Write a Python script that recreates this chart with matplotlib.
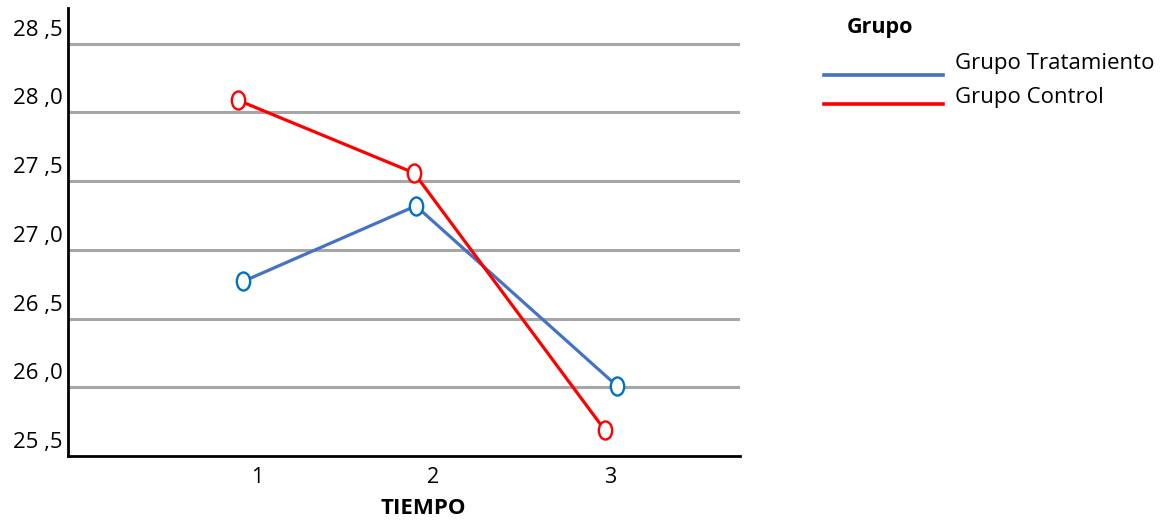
import matplotlib
matplotlib.use('Agg')
import matplotlib.pyplot as plt
import matplotlib.transforms as mtransforms
from matplotlib.path import Path
from matplotlib.lines import Line2D

plt.rcParams['font.family'] = ['Open Sans', 'DejaVu Sans']

# data
tiempo = [1, 2, 3]
tick_labels = ['1', '2', '3']
y_ticks = [25.5, 26.0, 26.5, 27.0, 27.5, 28.0, 28.5]
y_labels = ['25 ,5', '26 ,0', '26 ,5', '27 ,0', '27 ,5', '28 ,0', '28 ,5']

x_tratamiento = [0.92, 1.90, 3.04]
y_tratamiento = [26.77, 27.32, 26.01]
x_control = [0.89, 1.89, 2.97]
y_control = [28.09, 27.56, 25.69]

series = ['Grupo Tratamiento', 'Grupo Control']

# tall ellipse marker
ellipse = Path.unit_circle().transformed(mtransforms.Affine2D().scale(0.74, 1.0))

fig = plt.figure(figsize=(11.61, 5.20), dpi=100)
ax = fig.add_axes([0.0586, 0.123, 0.5788, 0.8616])

ax.plot(x_tratamiento, y_tratamiento, color='#4472C4', lw=2.3, zorder=3,
        marker=ellipse, ms=13, mfc='white', mec='#0070C0', mew=1.7)
ax.plot(x_control, y_control, color='#FF0000', lw=2.3, zorder=3,
        marker=ellipse, ms=13, mfc='white', mec='#FF0000', mew=1.7)

ax.set_xlim(-0.071, 3.737)
ax.set_ylim(25.5, 28.76)
ax.set_xticks(tiempo)
ax.set_xticklabels(tick_labels, fontsize=15.5)
ax.set_yticks(y_ticks)
ax.set_yticklabels(y_labels, fontsize=16)
ax.tick_params(length=0, pad=8)
ax.tick_params(axis='y', pad=4)

# y labels sit a bit above their gridlines
off = mtransforms.ScaledTranslation(0, 16 / 100, fig.dpi_scale_trans)
for lab in ax.get_yticklabels():
    lab.set_transform(lab.get_transform() + off)

for v in y_ticks[1:]:
    ax.axhline(v, color='#A6A6A6', lw=2.2, zorder=1)

for s in ['top', 'right']:
    ax.spines[s].set_visible(False)
for s in ['left', 'bottom']:
    ax.spines[s].set_linewidth(2)
    ax.spines[s].set_color('black')

fig.text(423 / 1161, 1 - 508 / 520, 'TIEMPO', fontsize=16, fontweight='bold',
         ha='center', va='center')

# legend drawn by hand
fig.text(880 / 1161, 1 - 28 / 520, 'Grupo', fontsize=15.5, fontweight='bold',
         ha='center', va='center')
leg_y = [75, 104]
txt_y = [64, 98]
cols = ['#4472C4', '#FF0000']
for name, c, ly, ty in zip(series, cols, leg_y, txt_y):
    fig.add_artist(Line2D([824 / 1161, 943 / 1161], [1 - ly / 520, 1 - ly / 520],
                          color=c, lw=2.6, transform=fig.transFigure))
    fig.text(955 / 1161, 1 - ty / 520, name, fontsize=16, ha='left', va='center')

fig.savefig('out.png', dpi=100)
